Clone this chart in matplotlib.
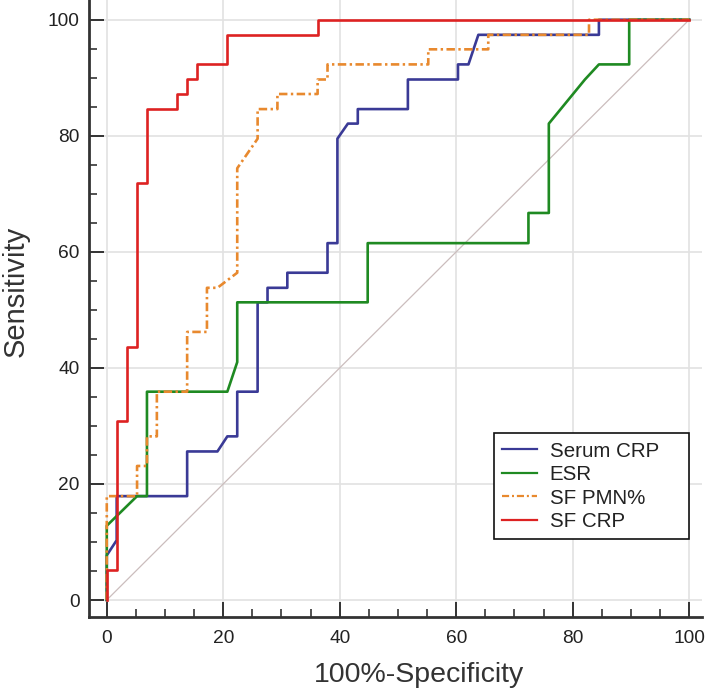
import matplotlib
matplotlib.use("Agg")
import matplotlib.pyplot as plt
from matplotlib.ticker import MultipleLocator

plt.rcParams['font.family'] = ['Liberation Sans', 'DejaVu Sans']

# ROC curves: x = 100%-Specificity, y = Sensitivity
serum_crp_x = [0, 0, 1.7, 1.7, 13.8, 13.8, 19.0, 20.7, 22.4, 22.4, 25.9, 25.9, 27.6, 27.6,
               31.0, 31.0, 37.9, 37.9, 39.6, 39.6, 41.4, 43.1, 43.1, 51.7, 51.7, 60.3, 60.3,
               62.1, 63.8, 84.5, 84.5, 100]
serum_crp_y = [0, 7.7, 10.3, 17.9, 17.9, 25.6, 25.6, 28.2, 28.2, 35.9, 35.9, 51.3, 51.3, 53.8,
               53.8, 56.4, 56.4, 61.5, 61.5, 79.5, 82.1, 82.1, 84.6, 84.6, 89.7, 89.7, 92.3,
               92.3, 97.4, 97.4, 100, 100]

esr_x = [0, 0, 5.2, 6.9, 6.9, 20.7, 22.4, 22.4, 44.8, 44.8, 72.4, 72.4, 75.9, 75.9,
         82.1, 84.5, 89.7, 89.7, 100]
esr_y = [0, 12.8, 17.9, 17.9, 35.9, 35.9, 41.0, 51.3, 51.3, 61.5, 61.5, 66.7, 66.7, 82.1,
         89.7, 92.3, 92.3, 100, 100]

sf_pmn_x = [0, 0, 5.2, 5.2, 6.9, 6.9, 8.6, 8.6, 13.8, 13.8, 17.2, 17.2, 19.0, 22.4, 22.4,
            25.9, 25.9, 29.3, 29.3, 36.2, 36.2, 37.9, 37.9, 55.2, 55.2, 65.5, 65.5, 82.8,
            82.8, 100]
sf_pmn_y = [0, 17.9, 17.9, 23.1, 23.1, 28.2, 28.2, 35.9, 35.9, 46.2, 46.2, 53.8, 53.8, 56.4,
            74.4, 79.5, 84.6, 84.6, 87.2, 87.2, 89.7, 89.7, 92.3, 92.3, 94.9, 94.9, 97.4,
            97.4, 100, 100]

sf_crp_x = [0, 0, 1.7, 1.7, 3.4, 3.4, 5.2, 5.2, 6.9, 6.9, 12.1, 12.1, 13.8, 13.8, 15.5,
            15.5, 20.7, 20.7, 36.2, 36.2, 100]
sf_crp_y = [0, 5.1, 5.1, 30.8, 30.8, 43.6, 43.6, 71.8, 71.8, 84.6, 84.6, 87.2, 87.2, 89.7,
            89.7, 92.3, 92.3, 97.4, 97.4, 100, 100]

ref_x = [0, 100]
ref_y = [0, 100]

series_labels = ["Serum CRP", "ESR", "SF PMN%", "SF CRP"]
x_ticks = [0, 20, 40, 60, 80, 100]
y_ticks = [0, 20, 40, 60, 80, 100]

W, H = 709, 696
fig = plt.figure(figsize=(W / 100, H / 100), dpi=100)
ax_l, ax_b = 89.3 / W, 1 - 617.3 / H
ax = fig.add_axes([ax_l, ax_b, (702 - 89.3) / W, 617.3 / H])
ax.set_xlim(-3.0, 102.2)
ax.set_ylim(-2.98, 103.4)

ax.grid(True, which='major', color='#e2e2e2', linewidth=1.2, zorder=0)
ax.set_axisbelow(True)

ax.plot(ref_x, ref_y, color='#cbbdbd', linewidth=0.9, zorder=1)
ax.plot(serum_crp_x, serum_crp_y, color='#3a3a96', linewidth=1.9, label=series_labels[0], zorder=2)
ax.plot(esr_x, esr_y, color='#1f8a22', linewidth=1.9, label=series_labels[1], zorder=3)
ax.plot(sf_pmn_x, sf_pmn_y, color='#e8892e', linewidth=1.9, linestyle=(0, (3.2, 1.3, 0.9, 1.3)),
        label=series_labels[2], zorder=4)
ax.plot(sf_crp_x, sf_crp_y, color='#dd2222', linewidth=1.9, label=series_labels[3], zorder=5)

ax.set_xticks(x_ticks)
ax.set_yticks(y_ticks)
ax.xaxis.set_minor_locator(MultipleLocator(5))
ax.yaxis.set_minor_locator(MultipleLocator(5))
ax.tick_params(which='major', direction='in', length=11, width=1.4, color='#333333',
               labelsize=13.8, labelcolor='#222222', pad=7)
ax.tick_params(which='minor', direction='in', length=5.5, width=1.2, color='#333333')
ax.tick_params(axis='x', pad=9)

for side in ['top', 'right']:
    ax.spines[side].set_visible(False)
for side in ['left', 'bottom']:
    ax.spines[side].set_linewidth(2.0)
    ax.spines[side].set_color('#333333')

ax.set_xlabel("100%-Specificity", fontsize=20.5, color='#333333')
ax.set_ylabel("Sensitivity", fontsize=21, color='#333333')
ax.xaxis.set_label_coords(0.538, -0.072)
ax.yaxis.set_label_coords(-0.098, 0.5275)

leg_box = (494 / W, 1 - 541.7 / H, (689.3 - 494) / W, (541.7 - 433.3) / H)
leg = ax.legend(loc='upper left', bbox_to_anchor=leg_box, mode='expand',
                bbox_transform=fig.transFigure, borderaxespad=0, fontsize=14.8,
                frameon=True, fancybox=False, framealpha=1, edgecolor='#111111',
                handlelength=1.7, handletextpad=0.6, labelspacing=0.22, borderpad=0.4)
leg.get_frame().set_linewidth(1.2)
for line in leg.get_lines():
    line.set_linewidth(1.6)
for t in leg.get_texts():
    t.set_color('#222222')

fig.savefig("out.png", dpi=100)
